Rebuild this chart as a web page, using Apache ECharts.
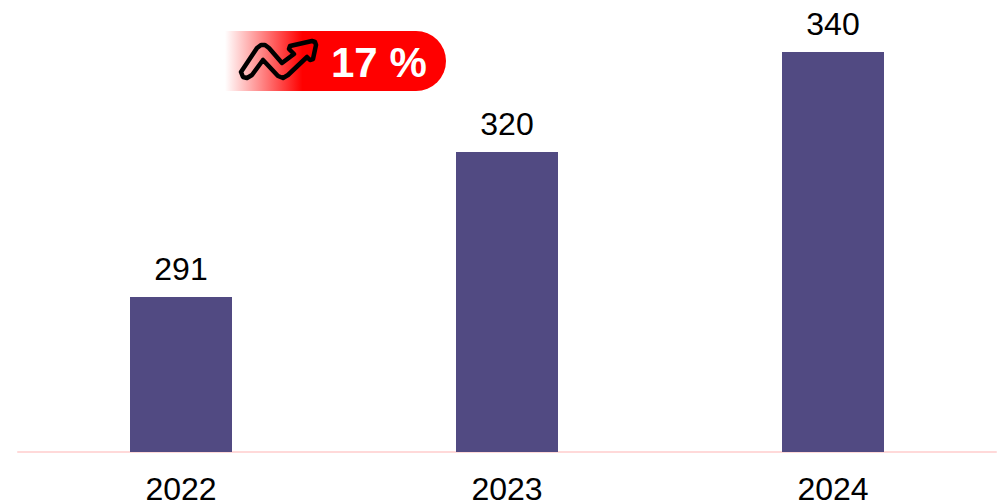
<!DOCTYPE html>
<html>
<head>
<meta charset="utf-8">
<style>html,body{margin:0;padding:0;background:#fff}#chart{width:1000px;height:504px}</style>
<script src="https://cdn.jsdelivr.net/npm/echarts@6/dist/echarts.min.js"></script>
</head>
<body>
<div id="chart"></div>
<script>
var years = ['2022', '2023', '2024'];
var values = [291, 320, 340];
var badgeText = '17 %';

var chart = echarts.init(document.getElementById('chart'), null, { renderer: 'svg' });
chart.setOption({
  animation: false,
  textStyle: { fontFamily: '"Liberation Sans", Arial, sans-serif' },
  grid: { left: 18, right: 4, top: 2, bottom: 52, outerBoundsMode: 'none' },
  xAxis: {
    type: 'category',
    data: years,
    axisLine: { lineStyle: { color: '#FFD9D9', width: 2 } },
    axisTick: { show: false },
    axisLabel: { color: '#000', fontSize: 32, lineHeight: 26, margin: 24 }
  },
  yAxis: { type: 'value', min: 260, max: 350, show: false },
  series: [{
    type: 'bar',
    data: values,
    barWidth: 102,
    itemStyle: { color: '#514A82' },
    label: { show: true, position: 'top', color: '#000', fontSize: 32, distance: 12 }
  }],
  graphic: [
    {
      type: 'rect',
      shape: { x: 225, y: 31, width: 221, height: 60, r: [0, 30, 30, 0] },
      style: {
        fill: {
          type: 'linear', x: 0, y: 0, x2: 1, y2: 0,
          colorStops: [
            { offset: 0, color: '#FFFFFF' },
            { offset: 0.35, color: '#FF0000' },
            { offset: 1, color: '#FF0000' }
          ]
        }
      }
    },
    {
      // trend arrow badge icon
      type: 'polygon',
      shape: {
        points: [
          [241, 72], [257, 48], [261, 45], [265, 45], [269, 48], [282, 63], [294, 54], [289, 49], [290, 46],
          [312, 41], [315, 42], [316, 45], [313, 59], [310, 60], [307, 57], [288, 75], [283, 78], [278, 76],
          [263, 60], [252, 75], [247, 78], [243, 77]
        ]
      },
      style: { fill: 'rgba(255,255,255,0)', stroke: '#000', lineWidth: 4.5, lineJoin: 'round' }
    },
    {
      type: 'text',
      style: { x: 331, y: 62, text: badgeText, fill: '#fff', font: 'bold 42px "Liberation Sans", Arial, sans-serif', textVerticalAlign: 'middle' }
    }
  ]
});
</script>
</body>
</html>
